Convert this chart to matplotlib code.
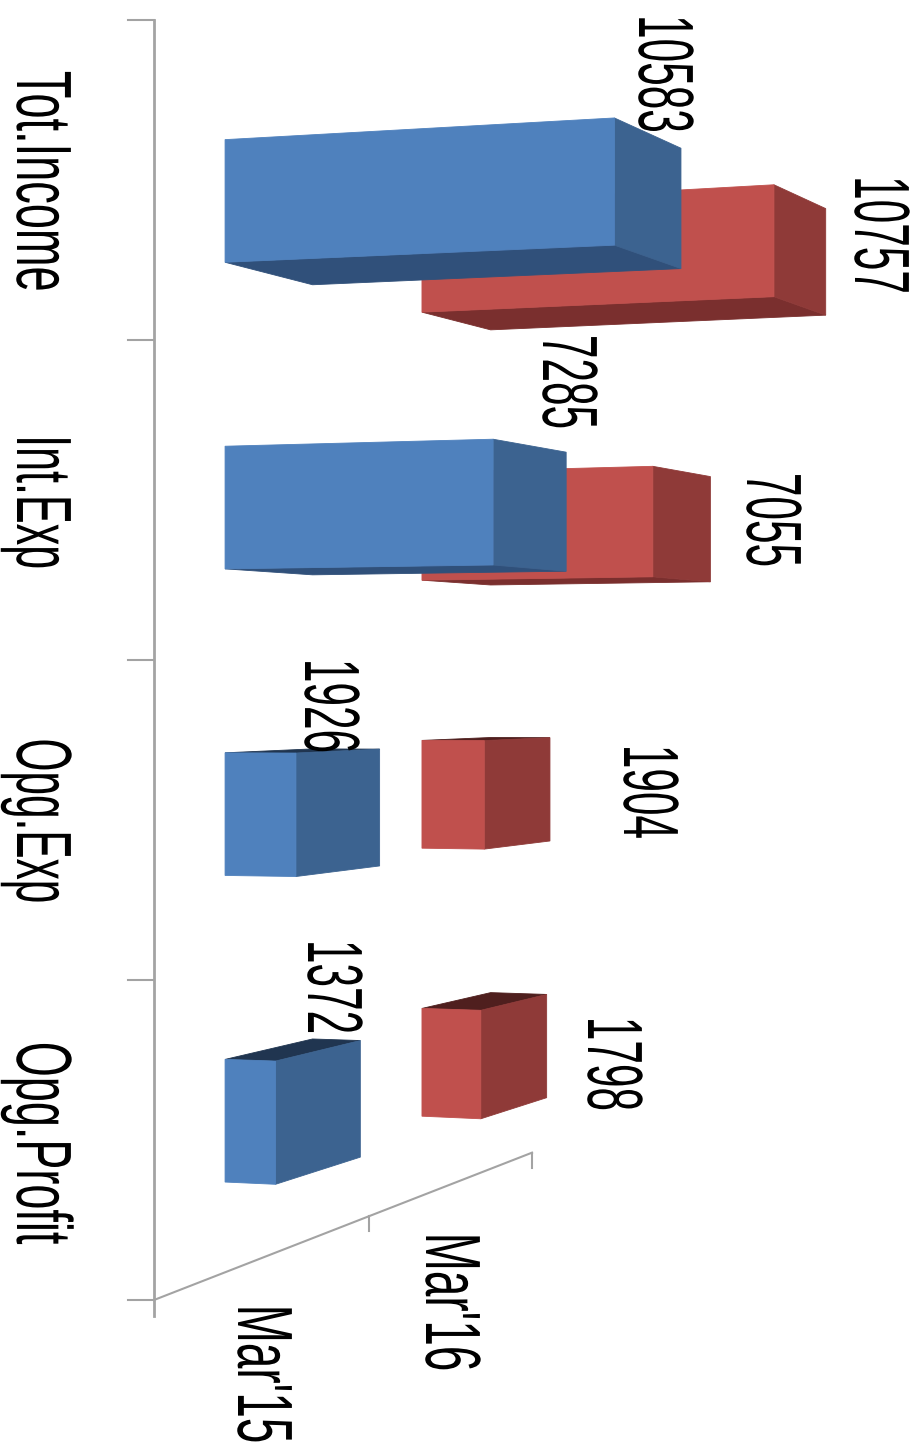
import matplotlib
matplotlib.use('Agg')
import matplotlib.pyplot as plt
import matplotlib.patheffects as pe
from matplotlib.transforms import Affine2D

# Chart data
categories = ['Tot.Income', 'Int.Exp', 'Opg.Exp', 'Opg.Profit']
series_names = ["Mar'15", "Mar'16"]
mar15 = [10583, 7285, 1926, 1372]
mar16 = [10757, 7055, 1904, 1798]

# Camera for the 3D look: everything is worked out in figure pixels
AXIS_X = 154
AXIS_TOP = 20
CAT_STEP = 320
BAR_SHARE = 0.4
VALUE_SCALE = 0.0384
VALUE_VP = (11000, 720)
DEPTH_VP = (1850, 680)
FLOOR_VP_Y = 639
DEPTH_TICKS = [0.0, 0.1268, 0.2229]

blue = {'front': '#4f81bd', 'side': '#3c6390', 'low': '#30507a', 'high': '#203550'}
red = {'front': '#c0504d', 'side': '#8f3a38', 'low': '#7a2f2e', 'high': '#4f1f1e'}
axis_grey = '#a3a3a3'
GLYPH_HEIGHT = 56.4  # font size times stretch, so all labels stand equally tall


class Stretch(pe.AbstractPathEffect):
    # makes glyphs taller without changing how long the text runs
    def __init__(self, sy):
        super().__init__()
        self.sy = sy

    def draw_path(self, renderer, gc, tpath, affine, rgbFace=None):
        renderer.draw_path(gc, tpath, Affine2D().scale(1, self.sy) + affine, rgbFace)


def project(value, y, t, gain=1.0):
    x0 = AXIS_X + value * VALUE_SCALE * gain
    y0 = y + (x0 - AXIS_X) * (y - VALUE_VP[1]) / (VALUE_VP[0] - AXIS_X)
    return (x0 + t * (DEPTH_VP[0] - x0), y0 + t * (DEPTH_VP[1] - y0))


def draw_bar(ax, value, cat, t_front, t_back, col, z, gain=1.0, step=CAT_STEP):
    mid = AXIS_TOP + step * (cat + 0.5)
    y1 = mid - CAT_STEP * BAR_SHARE / 2
    y2 = mid + CAT_STEP * BAR_SHARE / 2

    def face(pts, color, order):
        ax.fill([p[0] for p in pts], [p[1] for p in pts], color=color, lw=0.6, zorder=order)

    def pt(v, y, t):
        return project(v, y, t, gain)

    if y2 < DEPTH_VP[1]:
        face([pt(0, y2, t_front), pt(value, y2, t_front),
              pt(value, y2, t_back), pt(0, y2, t_back)], col['low'], z)
    if y1 > DEPTH_VP[1]:
        face([pt(0, y1, t_front), pt(value, y1, t_front),
              pt(value, y1, t_back), pt(0, y1, t_back)], col['high'], z)
    face([pt(value, y1, t_front), pt(value, y2, t_front),
          pt(value, y2, t_back), pt(value, y1, t_back)], col['side'], z)
    face([pt(0, y1, t_front), pt(value, y1, t_front),
          pt(value, y2, t_front), pt(0, y2, t_front)], col['front'], z + 1)


def label(ax, x, y, s, size=30.5):
    txt = ax.text(x, y, s, rotation=270, rotation_mode='anchor', ha='center', va='baseline',
                  fontsize=size, family=['Liberation Sans', 'DejaVu Sans'], color='black', zorder=10)
    txt.set_path_effects([Stretch(GLYPH_HEIGHT / size)])


fig = plt.figure(figsize=(9.18, 14.52), dpi=100)
ax = fig.add_axes([0, 0, 1, 1])
ax.set_xlim(0, 918)
ax.set_ylim(1452, 0)
ax.axis('off')

# axes and tick marks
n = len(categories)
axis_bottom = AXIS_TOP + CAT_STEP * n
ax.plot([AXIS_X, AXIS_X], [AXIS_TOP, axis_bottom + 16], color=axis_grey, lw=2, zorder=1)
for i in range(n + 1):
    yy = AXIS_TOP + CAT_STEP * i
    ax.plot([AXIS_X - 26, AXIS_X], [yy, yy], color=axis_grey, lw=1.5, zorder=1)
floor_x = [project(0, axis_bottom, t)[0] for t in DEPTH_TICKS]
floor_y = [axis_bottom + t * (FLOOR_VP_Y - axis_bottom) for t in DEPTH_TICKS]
ax.plot(floor_x, floor_y, color=axis_grey, lw=1.5, zorder=1)
for x, y in zip(floor_x[1:], floor_y[1:]):
    ax.plot([x, x], [y, y + 15], color=axis_grey, lw=1.5, zorder=1)

# red sits behind blue
for i, v in enumerate(mar16):
    draw_bar(ax, v, i, 0.158, 0.1985, red, 3, gain=1.012, step=318.3)
for i, v in enumerate(mar15):
    draw_bar(ax, v, i, 0.0419, 0.0935, blue, 5)

# text
cat_pos = [(17, 181), (17, 502), (17, 821), (17, 1143)]
cat_sizes = [32.5, 31, 30.5, 32.4]
for name, (x, y), size in zip(categories, cat_pos, cat_sizes):
    label(ax, x, y, name, size)

mar15_pos = [(639, 74), (543, 382), (305, 706), (308, 987)]
mar16_pos = [(855, 235), (747, 520), (624, 792), (588, 1064)]
for v, (x, y) in zip(mar15, mar15_pos):
    label(ax, x, y, str(v))
for v, (x, y) in zip(mar16, mar16_pos):
    label(ax, x, y, str(v))

label(ax, 238, 1374, series_names[0], 33)
label(ax, 426, 1302, series_names[1], 33)

fig.savefig('out.png', dpi=100, facecolor='white')
